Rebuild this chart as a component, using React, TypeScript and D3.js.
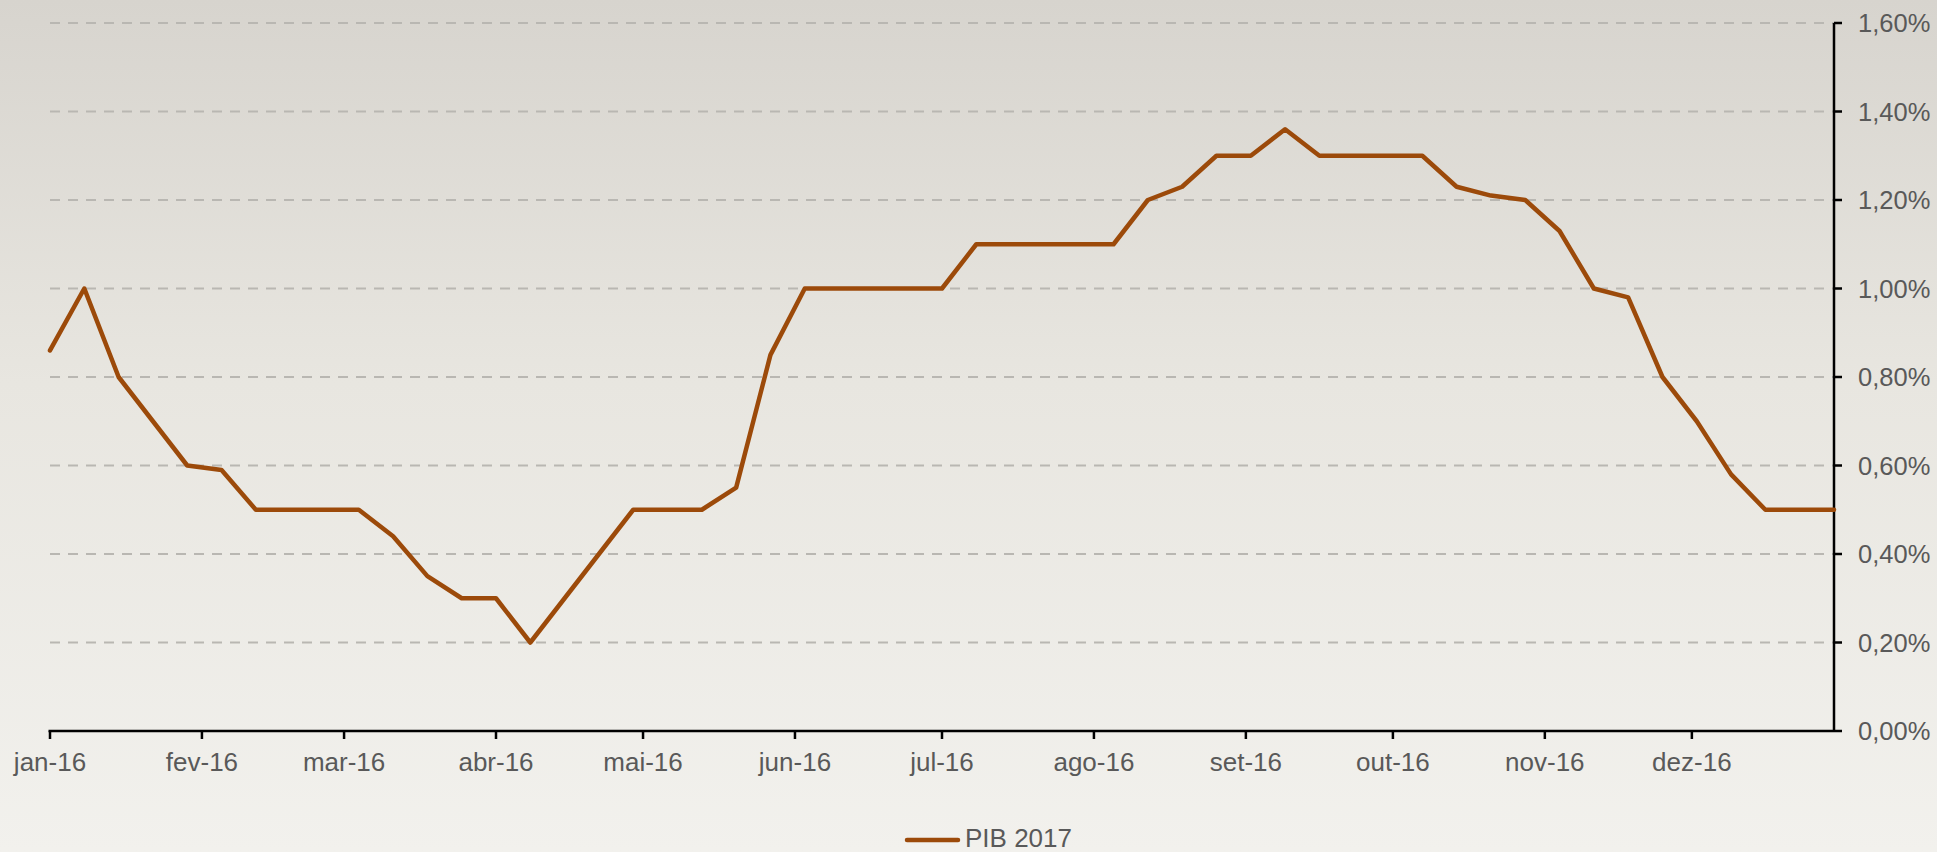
import React from "react";
import * as d3 from "d3";

const startDate = "2016-01-01";
const pib2017: number[] = [
  0.86, 1.0, 0.8, 0.7, 0.6, 0.59, 0.5, 0.5, 0.5, 0.5,
  0.44, 0.35, 0.3, 0.3, 0.2, 0.3, 0.4, 0.5, 0.5, 0.5,
  0.55, 0.85, 1.0, 1.0, 1.0, 1.0, 1.0, 1.1, 1.1, 1.1,
  1.1, 1.1, 1.2, 1.23, 1.3, 1.3, 1.36, 1.3, 1.3, 1.3,
  1.3, 1.23, 1.21, 1.2, 1.13, 1.0, 0.98, 0.8, 0.7, 0.58,
  0.5, 0.5, 0.5,
];
const monthLabels = ["jan-16", "fev-16", "mar-16", "abr-16", "mai-16", "jun-16", "jul-16", "ago-16", "set-16", "out-16", "nov-16", "dez-16"];
const yTicks = [0, 0.2, 0.4, 0.6, 0.8, 1.0, 1.2, 1.4, 1.6];
const seriesName = "PIB 2017";

const W = 1937;
const H = 852;
const FONT = "'Liberation Sans', Arial, sans-serif";

export default function App() {
  const parse = d3.timeParse("%Y-%m-%d");
  const start = parse(startDate) as Date;
  const dates = pib2017.map((_, i) => d3.timeDay.offset(start, i * 7));
  const data = pib2017.map((v, i) => ({ d: dates[i], v }));

  const left = 50;
  const right = 1834;
  const top = 23;
  const bottom = 731;

  const x = d3.scaleTime().domain([dates[0], dates[dates.length - 1]]).range([left, right]);
  const y = d3.scaleLinear().domain([0, 1.6]).range([bottom, top]);

  const months = d3.timeMonth.range(start, d3.timeDay.offset(dates[dates.length - 1], 1));

  const line = d3
    .line<{ d: Date; v: number }>()
    .x((p) => x(p.d))
    .y((p) => y(p.v));

  const fmt = (v: number) => v.toFixed(2).replace(".", ",") + "%";
  const textColor = "#595959";
  const lineColor = "#9c4a0a";

  return (
    <svg
      width={W}
      height={H}
      style={{ position: "absolute", left: 0, top: 0, display: "block" }}
      fontFamily={FONT}
    >
      <defs>
        <linearGradient id="bg" x1="0" y1="0" x2="0" y2="1">
          <stop offset="0%" stopColor="#d7d4ce" />
          <stop offset="45%" stopColor="#e8e6e0" />
          <stop offset="100%" stopColor="#f2f1ed" />
        </linearGradient>
      </defs>
      <rect x={0} y={0} width={W} height={H} fill="url(#bg)" />

      {yTicks.slice(1).map((t) => (
        <line
          key={"g" + t}
          x1={left}
          x2={right}
          y1={y(t)}
          y2={y(t)}
          stroke="#b9b7b2"
          strokeWidth={2.2}
          strokeDasharray="10 8"
        />
      ))}

      {/* x axis */}
      <line x1={left - 1.5} x2={right} y1={bottom} y2={bottom} stroke="#000" strokeWidth={2.5} />
      {months.map((m, i) => (
        <g key={"m" + i}>
          <line x1={x(m)} x2={x(m)} y1={bottom} y2={bottom + 8} stroke="#000" strokeWidth={2.5} />
          <text x={x(m)} y={771} textAnchor="middle" fontSize={26} fill={textColor}>
            {monthLabels[i]}
          </text>
        </g>
      ))}

      {/* y axis on right */}
      <line x1={right} x2={right} y1={top} y2={bottom + 1} stroke="#000" strokeWidth={2.5} />
      {yTicks.map((t) => (
        <g key={"y" + t}>
          <line x1={right} x2={right + 8} y1={y(t)} y2={y(t)} stroke="#000" strokeWidth={2.5} />
          <text x={1858} y={y(t) + 9} fontSize={25.5} fill={textColor}>
            {fmt(t)}
          </text>
        </g>
      ))}

      <path d={line(data) || ""} fill="none" stroke={lineColor} strokeWidth={4.5} strokeLinejoin="round" strokeLinecap="round" />

      {/* legend */}
      <line x1={907} x2={958} y1={840} y2={840} stroke={lineColor} strokeWidth={4.5} strokeLinecap="round" />
      <text x={965} y={847} fontSize={26} fill={textColor}>
        {seriesName}
      </text>
    </svg>
  );
}
